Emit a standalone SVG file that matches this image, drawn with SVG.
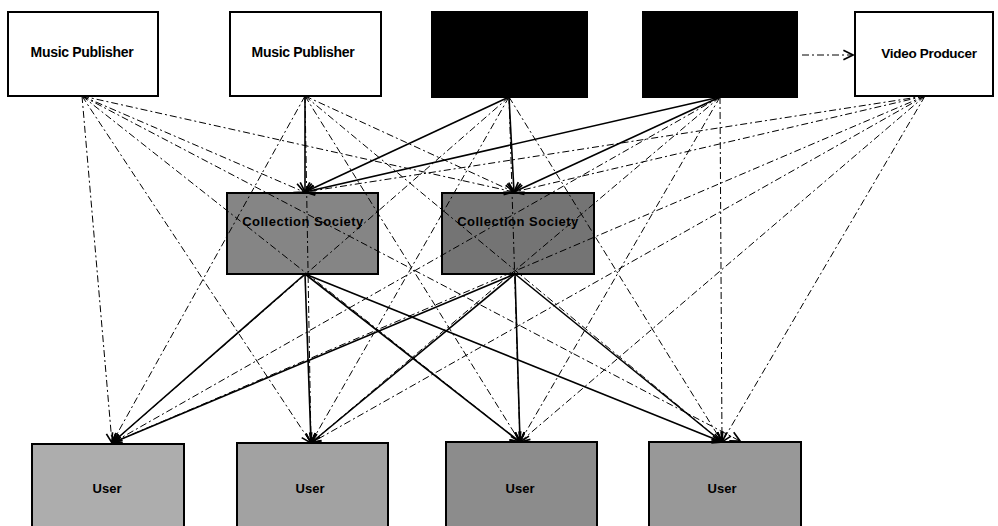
<svg xmlns="http://www.w3.org/2000/svg" width="998" height="526" viewBox="0 0 998 526">
<defs>
<marker id="ah" markerUnits="userSpaceOnUse" markerWidth="12" markerHeight="12" refX="9" refY="5" orient="auto" viewBox="0 0 10 10">
<path d="M1,1 L9,5 L1,9" fill="none" stroke="#000" stroke-width="1.4"/>
</marker>
</defs>
<style>
.box{stroke:#000;stroke-width:2}
.w{fill:#fff}
.k{fill:#000}
.cs{fill:#858585}
.u{fill:#a2a2a2}
.t{font-family:"Liberation Sans",Arial,sans-serif;font-weight:bold;text-anchor:middle;fill:#000}
.dd{fill:none;stroke:#000;stroke-width:1;stroke-dasharray:7 3 2 3;marker-end:url(#ah)}
.s{fill:none;stroke:#000;stroke-width:1.6;marker-end:url(#ah)}
</style>
<rect width="998" height="526" fill="#fff"/>
<g id="mp1"><rect class="box w" x="8" y="12" width="150" height="84"/><text class="t" x="82" y="57" font-size="14" letter-spacing="-0.3">Music Publisher</text></g>
<g id="mp2"><rect class="box w" x="230" y="12" width="151" height="84"/><text class="t" x="303" y="57" font-size="14" letter-spacing="-0.3">Music Publisher</text></g>
<g id="b3"><rect class="box k" x="432" y="12" width="155" height="85"/></g>
<g id="b4"><rect class="box k" x="643" y="12" width="154" height="85"/></g>
<g id="vp"><rect class="box w" x="855" y="12" width="138" height="84"/><text class="t" x="929" y="58" font-size="13.5" letter-spacing="-0.3">Video Producer</text></g>
<g id="cs1"><rect class="box cs" x="227" y="193" width="151" height="81"/><text class="t" x="303" y="226" font-size="13" letter-spacing="0.5" fill="#222">Collection Society</text></g>
<g id="cs2"><rect class="box cs" x="442" y="193" width="152" height="81" style="fill:#747474"/><text class="t" x="518" y="226" font-size="13" letter-spacing="0.5">Collection Society</text></g>
<g id="u1"><rect class="box u" x="32" y="444" width="152" height="90" style="fill:#adadad"/><text class="t" x="107" y="493" font-size="13">User</text></g>
<g id="u2"><rect class="box u" x="237" y="443" width="151" height="90"/><text class="t" x="310" y="493" font-size="13">User</text></g>
<g id="u3"><rect class="box u" x="446" y="442" width="151" height="90" style="fill:#8c8c8c"/><text class="t" x="520" y="493" font-size="13">User</text></g>
<g id="u4"><rect class="box u" x="649" y="442" width="152" height="90" style="fill:#989898"/><text class="t" x="722" y="493" font-size="13">User</text></g>
<g id="connectors">
<!-- Music Publisher 1 -->
<line class="dd" x1="82" y1="96" x2="304" y2="192"/>
<line class="dd" x1="82" y1="96" x2="514" y2="192"/>
<line class="dd" x1="82" y1="96" x2="112" y2="443"/>
<line class="dd" x1="82" y1="96" x2="311" y2="443"/>
<line class="dd" x1="82" y1="96" x2="520" y2="442"/>
<line class="dd" x1="82" y1="96" x2="740" y2="441"/>
<!-- Music Publisher 2 -->
<line class="s" x1="305" y1="96" x2="305" y2="192"/>
<line class="dd" x1="305" y1="96" x2="514" y2="192"/>
<line class="dd" x1="305" y1="96" x2="112" y2="443"/>
<line class="dd" x1="305" y1="96" x2="311" y2="443"/>
<line class="dd" x1="305" y1="96" x2="520" y2="442"/>
<line class="dd" x1="305" y1="96" x2="722" y2="442"/>
<!-- black box 3 -->
<line class="s" x1="509" y1="97" x2="305" y2="192"/>
<line class="s" x1="509" y1="97" x2="514" y2="192"/>
<line class="dd" x1="509" y1="97" x2="112" y2="443"/>
<line class="dd" x1="509" y1="97" x2="311" y2="443"/>
<line class="dd" x1="509" y1="97" x2="520" y2="442"/>
<line class="dd" x1="509" y1="97" x2="722" y2="442"/>
<!-- black box 4 -->
<line class="s" x1="720" y1="97" x2="305" y2="192"/>
<line class="s" x1="720" y1="97" x2="514" y2="192"/>
<line class="dd" x1="720" y1="97" x2="112" y2="443"/>
<line class="dd" x1="720" y1="97" x2="311" y2="443"/>
<line class="dd" x1="720" y1="97" x2="520" y2="442"/>
<line class="dd" x1="720" y1="97" x2="722" y2="442"/>
<line class="dd" x1="802" y1="55" x2="853" y2="55"/>
<!-- Video Producer -->
<line class="dd" x1="925" y1="96" x2="305" y2="192"/>
<line class="dd" x1="925" y1="96" x2="514" y2="192"/>
<line class="dd" x1="925" y1="96" x2="112" y2="443"/>
<line class="dd" x1="925" y1="96" x2="311" y2="443"/>
<line class="dd" x1="925" y1="96" x2="520" y2="442"/>
<line class="dd" x1="925" y1="96" x2="722" y2="442"/>
<!-- Collection Societies to Users -->
<line class="s" x1="305" y1="274" x2="112" y2="443"/>
<line class="s" x1="305" y1="274" x2="311" y2="443"/>
<line class="s" x1="305" y1="274" x2="520" y2="442"/>
<line class="s" x1="305" y1="274" x2="722" y2="442"/>
<line class="s" x1="515" y1="274" x2="112" y2="443"/>
<line class="s" x1="515" y1="274" x2="311" y2="443"/>
<line class="s" x1="515" y1="274" x2="520" y2="442"/>
<line class="s" x1="515" y1="274" x2="722" y2="442"/>
</g>
</svg>
